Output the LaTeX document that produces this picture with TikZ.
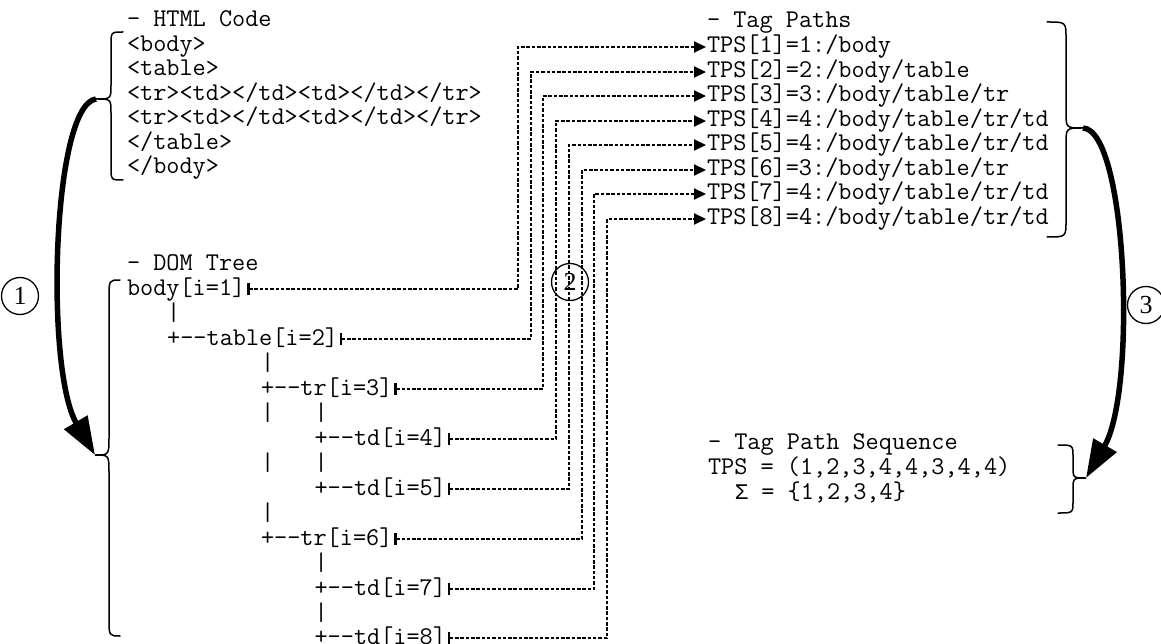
\documentclass[tikz,border=0pt]{standalone}
\usepackage{fontspec}
\setmainfont{Liberation Serif}
\newfontfamily\monofam{Liberation Mono}
\usetikzlibrary{arrows.meta,calc}
\newcommand\twodash{-\kern0pt-}
\newcommand\sigmaglyph{{\monofam\fontsize{22.33pt}{24pt}\selectfont Σ}}
\begin{document}
\begin{tikzpicture}[x=1pt,y=-1pt,
  txt/.style={font=\ttfamily\fontsize{25.52pt}{26pt}\selectfont, inner sep=0pt, outer sep=0pt, text height=16.5pt, text depth=4.5pt, anchor=west},
  brc/.style={line width=1.5pt, line cap=round},
  bigarrow/.style={line width=5.5pt, -{Triangle[length=38pt,width=26pt]}},
  conn/.style={line width=2pt, dash pattern=on 3.5pt off 1.8pt, {Bar[width=12pt,line width=2.4pt]}-{Triangle[length=12pt,width=11pt]}},
  circnum/.style={circle, draw, line width=1.3pt, minimum size=37pt, inner sep=0pt, font=\fontsize{26pt}{26pt}\selectfont}]
\useasboundingbox (0,0) rectangle (1161,644);

% HTML code
\node[txt] (hhead) at (127,21) {- HTML Code};
\node[txt] (h1) at (127,45.5) {<body>};
\node[txt] (h2) at (127,70) {<table>};
\node[txt] (h3) at (127,94.5) {<tr><td></td><td></td></tr>};
\node[txt] (h4) at (127,119) {<tr><td></td><td></td></tr>};
\node[txt] (h5) at (127,143.5) {</table>};
\node[txt] (h6) at (127,168) {</body>};

% Tag paths
\node[txt] (thead) at (707,22) {- Tag Paths};
\node[txt] (t1) at (707,47) {TPS[1]=1:/body};
\node[txt] (t2) at (707,72) {TPS[2]=2:/body/table};
\node[txt] (t3) at (707,96) {TPS[3]=3:/body/table/tr};
\node[txt] (t4) at (707,121) {TPS[4]=4:/body/table/tr/td};
\node[txt] (t5) at (707,145) {TPS[5]=4:/body/table/tr/td};
\node[txt] (t6) at (707,170) {TPS[6]=3:/body/table/tr};
\node[txt] (t7) at (707,194) {TPS[7]=4:/body/table/tr/td};
\node[txt] (t8) at (707,219) {TPS[8]=4:/body/table/tr/td};

% DOM tree
\node[txt] (dhead) at (127,264) {- DOM Tree};
\node[txt] (d1) at (127,289) {body[i=1]};
\node[txt] (p1) at (167.2,314) {|};
\node[txt] (d2) at (167.2,339) {+\twodash table[i=2]};
\node[txt] (p2) at (261,364) {|};
\node[txt] (d3) at (261,389) {+\twodash tr[i=3]};
\node[txt] (p3a) at (261,414) {|};
\node[txt] (p3b) at (314.6,414) {|};
\node[txt] (d4) at (314.6,439) {+\twodash td[i=4]};
\node[txt] (p4a) at (261,464) {|};
\node[txt] (p4b) at (314.6,464) {|};
\node[txt] (d5) at (314.6,489) {+\twodash td[i=5]};
\node[txt] (p5) at (261,514) {|};
\node[txt] (d6) at (261,539) {+\twodash tr[i=6]};
\node[txt] (p6) at (314.6,564) {|};
\node[txt] (d7) at (314.6,589) {+\twodash td[i=7]};
\node[txt] (p7) at (314.6,614) {|};
\node[txt] (d8) at (314.6,638) {+\twodash td[i=8]};

% Tag path sequence
\node[txt] (shead) at (708,443) {- Tag Path Sequence};
\node[txt] (s1) at (708,468) {TPS = (1,2,3,4,4,3,4,4)};
\node[txt] (s2) at (734.8,493) {\sigmaglyph{} = \{1,2,3,4\}};

% connectors
\foreach \i/\x in {1/518,2/531,3/543,4/556,5/569,6/582,7/594,8/607}
  \coordinate (v\i) at (\x,0);
\foreach \i in {1,...,8}
  \draw[conn] ([xshift=2pt]d\i.east) -| (v\i |- t\i.west) -- ([xshift=-1pt]t\i.west);

% braces
\draw[brc] (123,32) .. controls (111,32) .. (111,45) -- (111,85) .. controls (111,99) .. (96,99)
  .. controls (111,99) .. (111,113) -- (111,167) .. controls (111,180) .. (123,180);
\draw[brc] (1047,22) .. controls (1066,22) .. (1066,38) -- (1066,112) .. controls (1066,128) .. (1083,128)
  .. controls (1066,128) .. (1066,144) -- (1066,221) .. controls (1066,237) .. (1047,237);
\draw[brc] (1058,445) .. controls (1073,445) .. (1073,457) -- (1073,466) .. controls (1073,478) .. (1086,478)
  .. controls (1073,478) .. (1073,490) -- (1073,501) .. controls (1073,513) .. (1058,513);
\draw[brc] (120,280) .. controls (109,280) .. (109,298) -- (109,437) .. controls (109,455) .. (95,455)
  .. controls (109,455) .. (109,473) -- (109,618) .. controls (109,636) .. (120,636);

% big arrows
\coordinate (hb) at (96,99);
\coordinate (db) at (95,455);
\coordinate (tb) at (1083,128);
\coordinate (sb) at (1086,478);
\draw[bigarrow] (hb) .. controls (52,105) and (45,370) .. (db);
\draw[bigarrow] (tb) .. controls (1127,130) and (1137,390) .. (sb);

% circled numbers
\node[circnum] (c1) at (20,296) {1};
\node[circnum] (c2) at (570,282) {2};
\node[circnum] (c3) at (1146,305) {3};
\end{tikzpicture}
\end{document}
